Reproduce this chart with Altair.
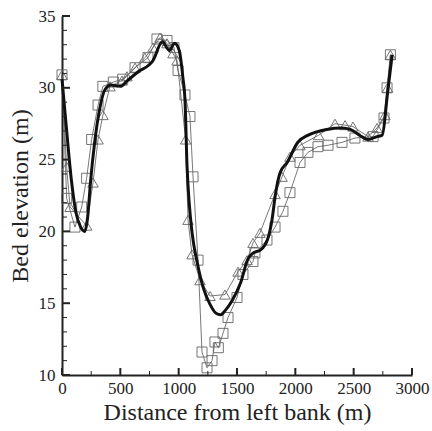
import altair as alt
import pandas as pd

# Thick black line (no markers)
thick_x = [0, 40, 80, 120, 160, 195, 220, 245, 280, 320, 370, 420, 500, 560, 650, 780, 860, 920, 965,
           1005, 1035, 1055, 1072, 1090, 1115, 1160, 1210, 1270, 1320, 1360, 1400, 1460, 1530, 1595,
           1640, 1700, 1760, 1800, 1830, 1870, 1930, 2020, 2110, 2270, 2400, 2470, 2550, 2620, 2700,
           2745, 2790, 2830]
thick_y = [30.6, 27.0, 23.6, 21.3, 20.3, 20.0, 21.0, 23.5, 26.2, 28.4, 29.9, 30.2, 30.1, 30.5, 31.1,
           31.9, 33.2, 32.6, 33.1, 32.6, 30.8, 29.0, 24.5, 22.0, 19.9, 17.8, 16.1, 14.9, 14.3, 14.2,
           14.5, 15.2, 16.4, 18.1, 18.5, 18.7, 19.4, 20.8, 22.6, 24.1, 24.8, 26.2, 26.7, 27.1, 27.2,
           27.1, 26.7, 26.4, 26.6, 26.7, 29.6, 32.3]

# Squares series
sq_x = [0, 40, 111, 169, 211, 254, 309, 350, 440, 520, 626, 737, 814, 900, 960, 995, 1054, 1097,
        1123, 1166, 1200, 1243, 1286, 1311, 1340, 1380, 1423, 1500, 1551, 1637, 1654, 1757, 1826,
        1894, 1954, 2040, 2108, 2194, 2280, 2400, 2511, 2666, 2760, 2786, 2815]
sq_y = [30.9, 22.3, 20.3, 21.7, 23.7, 26.4, 28.8, 30.1, 30.4, 30.6, 31.4, 32.1, 33.4, 33.3, 32.8,
        31.2, 29.5, 28.0, 23.8, 18.0, 11.6, 10.5, 11.0, 12.3, 11.9, 12.9, 14.0, 15.4, 17.0, 17.9,
        18.5, 19.4, 20.3, 21.4, 22.7, 24.8, 25.5, 25.9, 26.0, 26.2, 26.5, 26.6, 27.9, 30.0, 32.3]

# Triangles series
tr_x = [0, 40, 69, 211, 266, 309, 351, 411, 514, 557, 626, 711, 780, 840, 900, 951, 986, 1060,
        1080, 1114, 1183, 1269, 1397, 1509, 1586, 1637, 1697, 1826, 1886, 1954, 2040, 2200, 2340,
        2426, 2494, 2623, 2700, 2768, 2790, 2815]
tr_y = [30.9, 24.5, 21.7, 20.4, 23.4, 26.4, 28.1, 30.1, 30.5, 30.8, 31.4, 32.1, 32.8, 33.5, 33.1,
        32.4, 31.9, 26.4, 20.8, 18.4, 16.6, 15.5, 15.6, 17.2, 18.0, 19.2, 19.9, 22.6, 23.8, 25.2,
        26.0, 26.7, 27.5, 27.4, 27.3, 26.6, 27.2, 28.1, 30.0, 32.3]

x_major = [0, 500, 1000, 1500, 2000, 2500, 3000]
x_minor = [250, 750, 1250, 1750, 2250, 2750]
y_major = [10, 15, 20, 25, 30, 35]
y_minor = [v for v in range(11, 35) if v % 5 != 0]

W, H = 350, 359
FONT = "Times New Roman, Liberation Serif, DejaVu Serif, serif"

xs = alt.Scale(domain=[0, 3000], nice=False)
ys = alt.Scale(domain=[10, 35], nice=False)

thick = pd.DataFrame({"x": thick_x, "y": thick_y})
sq = pd.DataFrame({"x": sq_x, "y": sq_y})
tr = pd.DataFrame({"x": tr_x, "y": tr_y})

xenc = alt.X("x:Q", scale=xs, axis=alt.Axis(
    title="Distance from left bank (m)", values=x_major, format="d", ticks=False, grid=False,
    labelPadding=5, titlePadding=4, labelFlush=False,
    labelFont=FONT, titleFont=FONT,
    labelFontSize=17, titleFontSize=24, titleFontWeight="normal",
    labelColor="#222", titleColor="#222", domainColor="#222", domainWidth=2))
yenc = alt.Y("y:Q", scale=ys, axis=alt.Axis(
    title="Bed elevation (m)", values=y_major, format="d", ticks=False, grid=False,
    labelPadding=7, titlePadding=6, labelFlush=False,
    labelFont=FONT, titleFont=FONT,
    labelFontSize=17, titleFontSize=24, titleFontWeight="normal",
    labelColor="#222", titleColor="#222", domainColor="#222", domainWidth=2))

sq_line = alt.Chart(sq).mark_line(color="#555", strokeWidth=0.8).encode(x=xenc, y=yenc)
sq_pts = alt.Chart(sq).mark_point(shape="square", filled=False, size=100, color="#666",
                                  strokeWidth=0.9, opacity=1).encode(x="x:Q", y="y:Q")
tr_line = alt.Chart(tr).mark_line(color="#555", strokeWidth=0.8).encode(x="x:Q", y="y:Q")
tr_pts = alt.Chart(tr).mark_point(shape="triangle-up", filled=False, size=110, color="#666",
                                  strokeWidth=0.9, opacity=1).encode(x="x:Q", y="y:Q")
thick_line = alt.Chart(thick).mark_line(color="#111", strokeWidth=3,
                                        interpolate="monotone").encode(x="x:Q", y="y:Q")

xt_major = alt.Chart(pd.DataFrame({"x": x_major})).mark_rule(color="#222", strokeWidth=2).encode(
    x="x:Q", y=alt.value(H), y2=alt.value(H - 7))
xt_minor = alt.Chart(pd.DataFrame({"x": x_minor})).mark_rule(color="#222", strokeWidth=1).encode(
    x="x:Q", y=alt.value(H), y2=alt.value(H - 4))
yt_major = alt.Chart(pd.DataFrame({"y": y_major})).mark_rule(color="#222", strokeWidth=2).encode(
    y="y:Q", x=alt.value(0), x2=alt.value(8))
yt_minor = alt.Chart(pd.DataFrame({"y": y_minor})).mark_rule(color="#222", strokeWidth=1).encode(
    y="y:Q", x=alt.value(0), x2=alt.value(5))

chart = alt.layer(sq_line, tr_line, sq_pts, tr_pts, thick_line,
                  xt_major, xt_minor, yt_major, yt_minor).properties(
    width=W, height=H,
    autosize=alt.AutoSizeParams(type="none"),
    padding={"left": 62, "top": 16, "right": 20, "bottom": 56},
    background="white",
).configure(font=FONT, view=alt.ViewConfig(stroke=None))

chart.save("out.html", embed_options={"renderer": "svg", "actions": False})
